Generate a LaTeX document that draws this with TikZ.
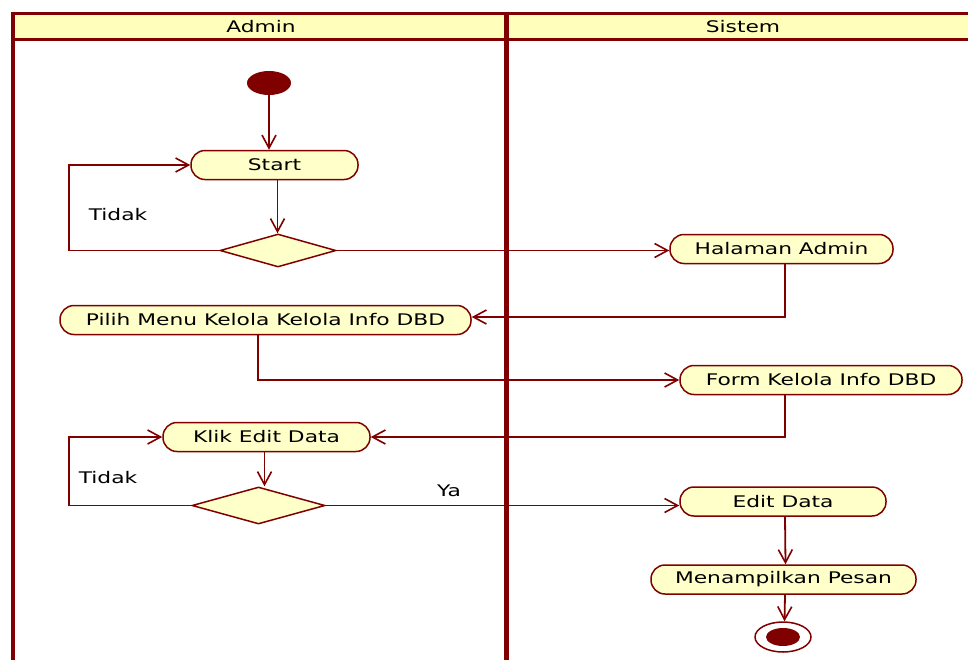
\documentclass[tikz,border=0pt]{standalone}
\usepackage{fontspec}
\newfontfamily\umlfont[FakeStretch=1.36]{DejaVu Sans}
\usetikzlibrary{arrows.meta,shapes.geometric}
\definecolor{umlred}{HTML}{800000}
\definecolor{umlfill}{HTML}{FFFFCA}
\definecolor{lanefill}{HTML}{FFFFBB}
\begin{document}
\begin{tikzpicture}[x=1pt,y=-1pt,
  every node/.style={font=\umlfont\fontsize{16}{18}\selectfont},
  action/.style={draw=umlred,fill=umlfill,line width=1.5pt,rounded corners=14pt,
    minimum height=29pt,inner sep=0pt},
  decision/.style={draw=umlred,fill=umlfill,line width=1.5pt,diamond,inner sep=0pt},
  flow/.style={draw=umlred,line width=1.8pt,-{Straight Barb[length=13pt,width=14pt,line width=1.6pt]}},
  lane/.style={draw=umlred,line width=4pt},
  guard/.style={inner sep=0pt,anchor=center}]
\useasboundingbox (0,0) rectangle (968,659);
\fill[white] (0,0) rectangle (968,659);

% swimlane headers and borders
\fill[lanefill] (13,13) rectangle (975,39.5);
\draw[umlred,line width=2.5pt] (13,39.5) -- (975,39.5);
\draw[umlred,line width=3pt] (11,13) -- (975,13);
\draw[lane] (13,11.5) -- (13,665);
\draw[lane,line width=5pt] (506,11.5) -- (506,665);
\node[guard] (hadmin) at (261,27) {Admin};
\node[guard] (hsistem) at (743,27) {Sistem};

% initial and final states
\node[ellipse,fill=umlred,minimum width=44pt,minimum height=24pt,inner sep=0pt] (init) at (269,83) {};
\node[ellipse,draw=umlred,fill=white,line width=1.5pt,minimum width=56pt,minimum height=30pt,inner sep=0pt] (fin) at (783,637) {};
\fill[umlred] (fin.center) ellipse [x radius=17pt,y radius=9pt];

% actions
\node[action,minimum width=167pt] (start) at (274.5,165) {Start};
\node[action,minimum width=223pt] (ham) at (781.5,249) {Halaman Admin};
\node[action,minimum width=411pt] (pilih) at (265.5,320) {Pilih Menu Kelola Kelola Info DBD};
\node[action,minimum width=282pt] (form) at (821,380) {Form Kelola Info DBD};
\node[action,minimum width=207pt] (klik) at (266.5,437) {Klik Edit Data};
\node[action,minimum width=206pt] (edit) at (783,501.5) {Edit Data};
\node[action,minimum width=265pt] (mp) at (783.5,579.5) {Menampilkan Pesan};

% decisions
\node[decision,minimum width=116pt,minimum height=33pt] (d1) at (278,250.5) {};
\node[decision,minimum width=133pt,minimum height=37pt] (d2) at (258.5,505.5) {};

% guards
\node[guard] (t1) at (118,215) {Tidak};
\node[guard] (t2) at (108,478) {Tidak};
\node[guard] (ya) at (449,491) {Ya};

% control flows
\draw[flow] (init) -- (init |- start.north);
\draw[flow] ([xshift=3pt]start.south) -- ([xshift=3pt]start.south |- d1.north);
\draw[flow] (d1.west) -- ++(-150,0) |- (start.west);
\draw[flow] (d1.east) -- (d1.east -| ham.west);
\draw[flow] ([xshift=3.5pt]ham.south) |- ([yshift=3pt]pilih.east);
\draw[flow] ([xshift=-7.5pt]pilih.south) |- (form.west);
\draw[flow] ([xshift=-36pt]form.south) |- (klik.east);
\draw[flow] ([xshift=-2pt]klik.south) -- ([xshift=-2pt]klik.south |- d2.north);
\draw[flow] (d2.west) -- ++(-122,0) |- (klik.west);
\draw[flow] (d2.east) -- (d2.east -| edit.west);
\draw[flow] ([xshift=2pt]edit.south) -- ([xshift=2pt]mp.north);
\draw[flow] ([xshift=1.5pt]mp.south) -- ([xshift=1.5pt]fin.north);
\end{tikzpicture}
\end{document}
